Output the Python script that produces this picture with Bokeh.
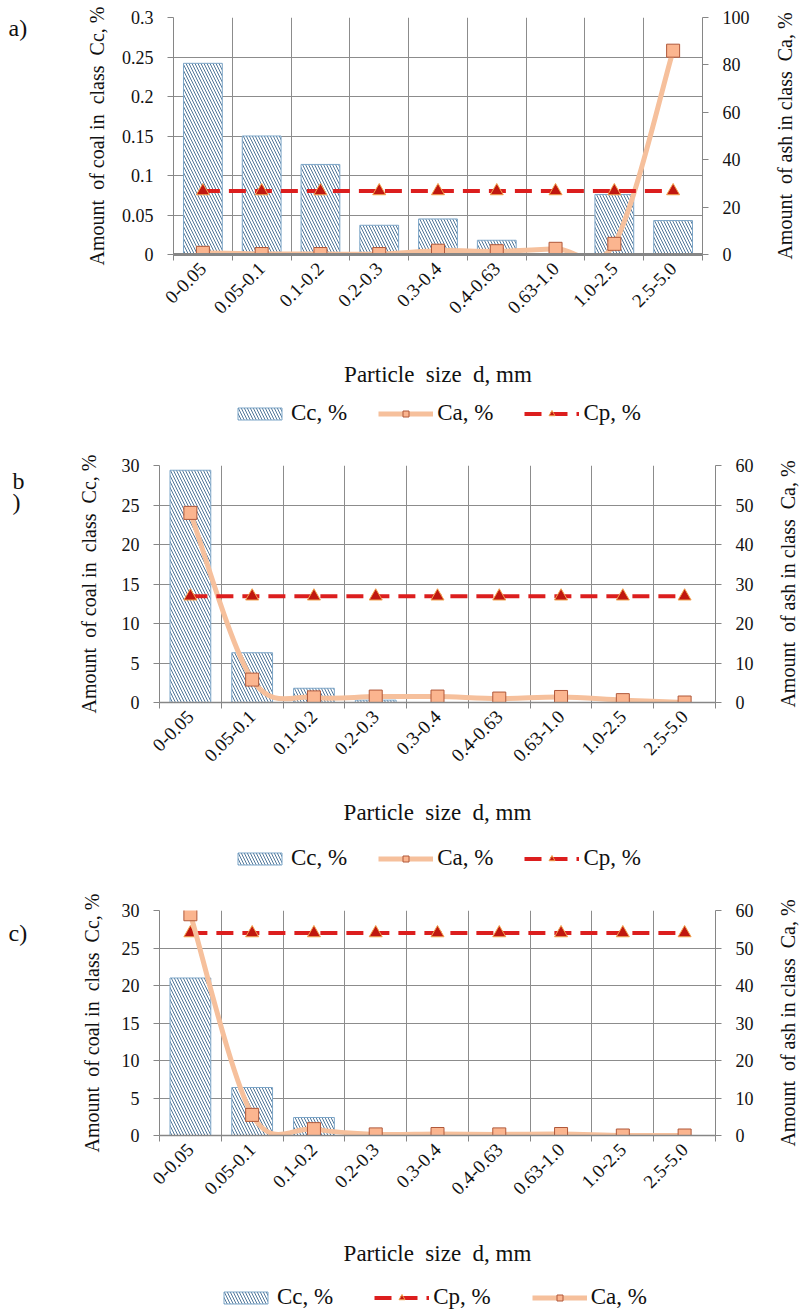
import math
from bokeh.plotting import figure
from bokeh.models import (Range1d, LinearAxis, FixedTicker, Legend, LegendItem,
                          NumeralTickFormatter)
from bokeh.core.properties import value
from bokeh.layouts import column, row
from bokeh.embed import file_html
from bokeh.resources import INLINE

# ---------------- data ----------------
categories = ["0-0.05", "0.05-0.1", "0.1-0.2", "0.2-0.3", "0.3-0.4",
              "0.4-0.63", "0.63-1.0", "1.0-2.5", "2.5-5.0"]

# panel a
cc_a = [0.242, 0.150, 0.114, 0.037, 0.045, 0.018, 0.0, 0.076, 0.043]
ca_a = [0.7, 0.2, 0.2, 0.2, 1.6, 1.4, 2.4, 4.5, 86.0]
cp_a = [26.8, 26.8, 26.8, 26.8, 26.8, 26.8, 26.8, 26.8, 26.8]

# panel b
cc_b = [29.4, 6.3, 1.8, 0.3, 0.0, 0.0, 0.0, 0.0, 0.0]
ca_b = [48.0, 5.8, 1.3, 1.5, 1.5, 1.0, 1.4, 0.6, 0.0]
cp_b = [26.9, 26.9, 26.9, 26.9, 26.9, 26.9, 26.9, 26.9, 26.9]

# panel c
cc_c = [21.0, 6.4, 2.4, 0.0, 0.0, 0.0, 0.0, 0.0, 0.0]
ca_c = [59.0, 5.5, 1.7, 0.3, 0.4, 0.3, 0.4, 0.0, 0.0]
cp_c = [54.0, 54.0, 54.0, 54.0, 54.0, 54.0, 54.0, 54.0, 54.0]

left_ticks_a = [0, 0.05, 0.1, 0.15, 0.2, 0.25, 0.3]
right_ticks_a = [0, 20, 40, 60, 80, 100]
left_ticks_bc = [0, 5, 10, 15, 20, 25, 30]
right_ticks_bc = [0, 10, 20, 30, 40, 50, 60]

NB = "\u00a0"
x_title = "Particle" + NB + " size" + NB + " d, mm"
left_title = "Amount" + NB + " of coal in" + NB + " class" + NB + " Cc, %"
right_title = "Amount" + NB + " of ash in class" + NB + " Ca, %"

FONT = "Liberation Serif"
AXIS_GRAY = "#868686"
GRID_GRAY = "#8c8c8c"
TEXT = "#111111"
W_TOTAL = 800
TAG_W = 40
TITLE_W = 70
LW = TAG_W + TITLE_W
RW = 35
W_MAIN = W_TOTAL - LW - RW


def smooth_controls(xs, ys, k=1.0 / 6.0):
    """Bezier control points for a smoothed line through the data points."""
    n = len(xs)
    segs = {"x0": [], "y0": [], "x1": [], "y1": [], "cx0": [], "cy0": [], "cx1": [], "cy1": []}
    for i in range(n - 1):
        im1 = max(i - 1, 0)
        ip2 = min(i + 2, n - 1)
        segs["x0"].append(xs[i]); segs["y0"].append(ys[i])
        segs["x1"].append(xs[i + 1]); segs["y1"].append(ys[i + 1])
        segs["cx0"].append(xs[i] + (xs[i + 1] - xs[im1]) * k)
        segs["cy0"].append(ys[i] + (ys[i + 1] - ys[im1]) * k)
        segs["cx1"].append(xs[i + 1] - (xs[ip2] - xs[i]) * k)
        segs["cy1"].append(ys[i + 1] - (ys[ip2] - ys[i]) * k)
    return segs


def style_text_axis(ax, size="18px"):
    ax.axis_line_color = AXIS_GRAY
    ax.axis_line_width = 1
    ax.major_tick_line_color = AXIS_GRAY
    ax.major_tick_out = 6
    ax.major_tick_in = 0
    ax.minor_tick_line_color = None
    ax.major_label_text_font = FONT
    ax.major_label_text_font_size = size
    ax.major_label_text_color = TEXT
    ax.axis_label_text_font = FONT
    ax.axis_label_text_font_size = "23px"
    ax.axis_label_text_font_style = "normal"
    ax.axis_label_text_color = TEXT


def draw_series(p, cc, ca, cp, order, rname):
    n = len(categories)
    xs = [i + 0.5 for i in range(n)]
    kw = {} if rname is None else {"y_range_name": rname}
    bars = p.vbar(x=xs, top=cc, width=0.66, bottom=0, fill_color="white",
                  line_color="#7da6c8", line_width=1,
                  hatch_pattern="left_diagonal_line", hatch_color="#4f7699",
                  hatch_scale=6, hatch_weight=1)

    def draw_ca():
        seg = smooth_controls(xs, ca)
        ln = p.bezier(x0=seg["x0"], y0=seg["y0"], x1=seg["x1"], y1=seg["y1"],
                      cx0=seg["cx0"], cy0=seg["cy0"], cx1=seg["cx1"], cy1=seg["cy1"],
                      line_color="#f6c09c", line_width=5, **kw)
        pts = p.scatter(x=xs, y=ca, marker="square", size=13, fill_color="#fbb58f",
                        line_color="#b0583a", line_width=1, **kw)
        return [ln, pts]

    def draw_cp():
        ln = p.line(x=xs, y=cp, line_color="#dc1e1e", line_width=4,
                    line_dash="17 9", **kw)
        pts = p.scatter(x=xs, y=cp, marker="triangle", size=13, fill_color="#c0170f",
                        line_color="#f2a24e", line_width=1, **kw)
        return [ln, pts]

    items = [LegendItem(label="Cc, %", renderers=[bars])]
    for name in order:
        if name == "Ca":
            items.append(LegendItem(label="Ca, %", renderers=draw_ca()))
        else:
            items.append(LegendItem(label="Cp, %", renderers=draw_cp()))
    return items


def make_main(cc, ca, cp, left_ticks, right_ticks, left_fmt, geom, order,
              x_axis_width, xstand):
    fl, ft, fw, fh, H = geom
    n = len(categories)
    xs = [i + 0.5 for i in range(n)]
    bounds = [i for i in range(n + 1)]
    bl = fl - LW

    p = figure(width=W_MAIN, height=H,
               x_range=Range1d(0, n), y_range=Range1d(left_ticks[0], left_ticks[-1]),
               output_backend="svg", toolbar_location=None,
               min_border_left=bl, min_border_top=ft,
               min_border_right=W_MAIN - bl - fw, min_border_bottom=H - ft - fh)
    p.outline_line_color = None
    p.background_fill_color = "white"
    p.extra_y_ranges = {"ash": Range1d(right_ticks[0], right_ticks[-1])}

    xa = p.xaxis[0]
    style_text_axis(xa, "19px")
    xa.ticker = FixedTicker(ticks=xs, minor_ticks=bounds)
    xa.major_label_overrides = {x: c for x, c in zip(xs, categories)}
    xa.major_tick_line_color = None
    xa.minor_tick_line_color = AXIS_GRAY
    xa.minor_tick_out = 6
    xa.minor_tick_in = 0
    xa.axis_line_width = x_axis_width
    xa.major_label_orientation = math.pi / 4
    xa.major_label_standoff = 5
    xa.axis_label = x_title
    xa.axis_label_standoff = xstand

    ya = p.yaxis[0]
    style_text_axis(ya)
    ya.ticker = FixedTicker(ticks=left_ticks)
    if left_fmt:
        ya.formatter = NumeralTickFormatter(format=left_fmt)
    ya.major_label_standoff = 14

    ra = LinearAxis(y_range_name="ash", ticker=FixedTicker(ticks=right_ticks))
    style_text_axis(ra)
    ra.major_label_standoff = 14
    p.add_layout(ra, "right")

    p.xgrid.ticker = FixedTicker(ticks=bounds)
    p.ygrid.ticker = FixedTicker(ticks=left_ticks)
    for g in (p.xgrid[0], p.ygrid[0]):
        g.grid_line_color = GRID_GRAY
        g.grid_line_width = 1

    draw_series(p, cc, ca, cp, order, "ash")
    return p


def make_tag(H, tags):
    t = figure(width=TAG_W, height=H, x_range=Range1d(0, TAG_W),
               y_range=Range1d(0, H), x_axis_type=None, y_axis_type=None,
               output_backend="svg", toolbar_location=None, min_border=0)
    t.outline_line_color = None
    t.xgrid.visible = False
    t.ygrid.visible = False
    t.text(x=[lx for (_, lx, _) in tags], y=[H - top for (_, _, top) in tags],
           text=[txt for (txt, _, _) in tags], text_font=value(FONT),
           text_font_size="24px", text_color=TEXT, text_baseline="middle",
           text_align="left")
    return t


def make_title_strip(width, H, label, top, bottom, standoff):
    """Narrow strip whose (invisible) left axis carries a vertical title."""
    s = figure(width=width, height=H, x_range=Range1d(0, 1), y_range=Range1d(0, 1),
               x_axis_type=None, output_backend="svg", toolbar_location=None,
               min_border_left=width - 2, min_border_right=0,
               min_border_top=top, min_border_bottom=bottom)
    s.outline_line_color = None
    s.xgrid.visible = False
    s.ygrid.visible = False
    ax = s.yaxis[0]
    ax.ticker = FixedTicker(ticks=[])
    ax.axis_line_color = None
    ax.major_tick_line_color = None
    ax.minor_tick_line_color = None
    ax.major_label_text_font_size = "0px"
    ax.axis_label = label
    ax.axis_label_text_font = FONT
    ax.axis_label_text_font_size = "20px"
    ax.axis_label_text_font_style = "normal"
    ax.axis_label_text_color = TEXT
    ax.axis_label_standoff = standoff
    return s


def make_legend(cc, ca, cp, order, H, lx, ly, spacing):
    lg = figure(width=W_TOTAL, height=H, x_range=Range1d(100, 101),
                y_range=Range1d(1000, 1001), x_axis_type=None, y_axis_type=None,
                output_backend="svg", toolbar_location=None, min_border=0)
    lg.outline_line_color = None
    lg.xgrid.visible = False
    lg.ygrid.visible = False
    items = draw_series(lg, cc, ca, cp, order, None)
    legend = Legend(items=items, orientation="horizontal", location=(lx, ly),
                    border_line_color=None, background_fill_alpha=0,
                    label_text_font=FONT, label_text_font_size="23px",
                    label_text_color=TEXT,
                    glyph_width=55, glyph_height=15, spacing=spacing, label_standoff=4,
                    padding=0, margin=0)
    lg.add_layout(legend, "center")
    return lg


# panel a  (page y 0 .. 438)
ma = make_main(cc_a, ca_a, cp_a, left_ticks_a, right_ticks_a, "0.[00]",
               (173, 17, 529, 237, 395), ["Ca", "Cp"], 3, 40)
tg_a = make_tag(395, [("a)", 8, 18)])
lt_a = make_title_strip(TITLE_W, 395, left_title, 17, 92, 1)
rt_a = make_title_strip(RW, 395, right_title, 17, 98, 3)
lg_a = make_legend(cc_a, ca_a, cp_a, ["Ca", "Cp"], 43, 232, 12, 31)

# panel b  (page y 438 .. 872)
mb = make_main(cc_b, ca_b, cp_b, left_ticks_bc, right_ticks_bc, None,
               (159, 27, 556, 237, 395), ["Ca", "Cp"], 1.5, 30)
tg_b = make_tag(395, [("b", 12, 25), (")", 12, 60)])
lt_b = make_title_strip(TITLE_W, 395, left_title, 27, 78, 9)
rt_b = make_title_strip(RW, 395, right_title, 27, 66, 0)
lg_b = make_legend(cc_b, ca_b, cp_b, ["Ca", "Cp"], 39, 232, 1, 31)

# panel c  (page y 872 .. 1312)
mc = make_main(cc_c, ca_c, cp_c, left_ticks_bc, right_ticks_bc, None,
               (159, 38, 556, 225, 403), ["Cp", "Ca"], 1.5, 38)
tg_c = make_tag(403, [("c)", 8, 41)])
lt_c = make_title_strip(TITLE_W, 403, left_title, 38, 103, 6)
rt_c = make_title_strip(RW, 403, right_title, 38, 101, 0)
lg_c = make_legend(cc_c, ca_c, cp_c, ["Cp", "Ca"], 37, 218, 2, 41)

layout = column(row(tg_a, lt_a, ma, rt_a, spacing=0), lg_a,
                row(tg_b, lt_b, mb, rt_b, spacing=0), lg_b,
                row(tg_c, lt_c, mc, rt_c, spacing=0), lg_c, spacing=0)
open("out.html", "w").write(file_html(layout, INLINE))
